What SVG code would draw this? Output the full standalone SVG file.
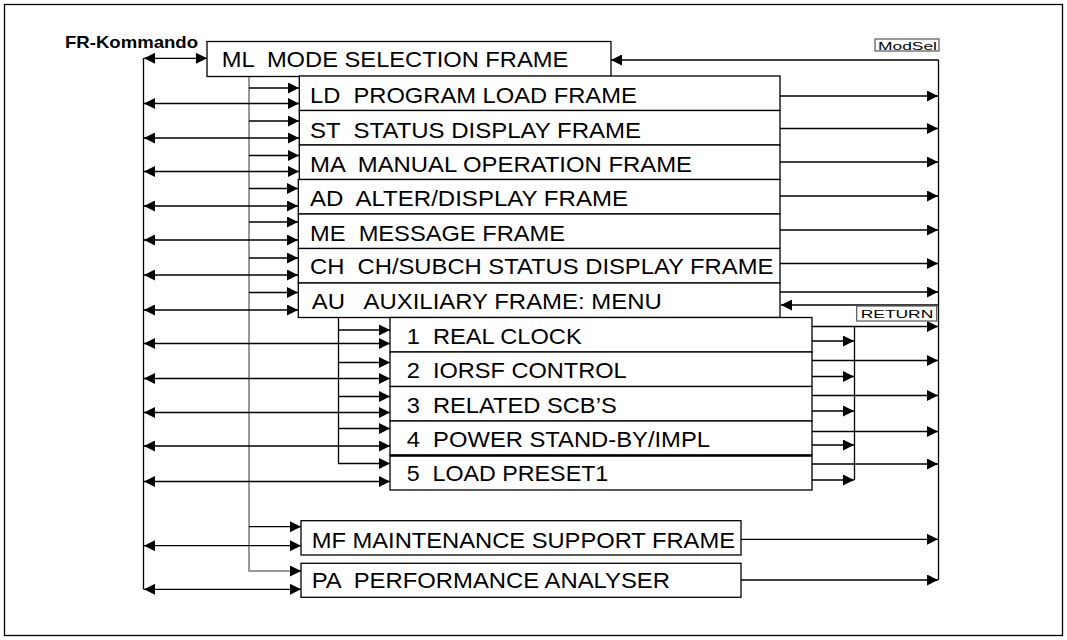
<svg xmlns="http://www.w3.org/2000/svg" width="1067" height="640" viewBox="0 0 1067 640">
<style>
.box{fill:#fff;stroke:#000;stroke-width:1.3}
.t{font-family:"Liberation Sans",Arial,sans-serif;font-size:22px;fill:#000;white-space:pre}
.lbl{fill:#fff;stroke:#555;stroke-width:1.2}
.lt{font-family:"Liberation Sans",Arial,sans-serif;font-size:11.5px;fill:#000}
.c{fill:none;stroke:#000;stroke-width:1.3}
.g{fill:none;stroke:#777;stroke-width:1.5}
.a{marker-end:url(#ah)}
.d{marker-start:url(#ah);marker-end:url(#ah)}
</style>
<defs>
<marker id="ah" viewBox="0 0 10 10" refX="10" refY="5" markerWidth="11" markerHeight="11" markerUnits="userSpaceOnUse" orient="auto-start-reverse"><path d="M0,0 L10,5 L0,10 z" fill="#000"/></marker>
</defs>
<rect x="4.5" y="4.5" width="1058" height="631" fill="#fff" stroke="#000" stroke-width="1.3"/>
<text x="65" y="47.7" font-family="Liberation Sans,Arial,sans-serif" font-weight="bold" font-size="16.5" textLength="133" lengthAdjust="spacingAndGlyphs">FR-Kommando</text>

<g id="connectors">
<path class="c" d="M143.5,58 V589.5"/>
<path class="c d" d="M144,58.3 H207"/>
<path class="g" d="M249,76 V571 H296"/>
<path class="c" d="M938.5,60 V580"/>
<path class="c a" d="M938.5,60 H611"/>
<!-- main rows: upper arrows -->
<path class="c a" d="M249,88 H299"/>
<path class="c a" d="M249,121 H299"/>
<path class="c a" d="M249,155.5 H299"/>
<path class="c a" d="M249,188.5 H298"/>
<path class="c a" d="M249,222 H298"/>
<path class="c a" d="M249,258 H298"/>
<path class="c a" d="M249,292.5 H298"/>
<!-- main rows: double arrows -->
<path class="c d" d="M144,103.5 H299"/>
<path class="c d" d="M144,138 H299"/>
<path class="c d" d="M144,171.5 H299"/>
<path class="c d" d="M144,206 H298"/>
<path class="c d" d="M144,240 H298"/>
<path class="c d" d="M144,275 H298"/>
<path class="c d" d="M144,310 H298"/>
<!-- main rows: right arrows -->
<path class="c a" d="M780,96 H938"/>
<path class="c a" d="M780,128.5 H938"/>
<path class="c a" d="M780,162 H938"/>
<path class="c a" d="M780,196 H938"/>
<path class="c a" d="M780,230 H938"/>
<path class="c a" d="M780,263.5 H938"/>
<path class="c a" d="M780,292 H938"/>
<path class="c a" d="M938.5,305 H781"/>
<!-- sub rows -->
<path class="c" d="M338.5,317.5 V463.5 H385"/>
<path class="c a" d="M338.5,330 H390"/>
<path class="c a" d="M338.5,362.5 H390"/>
<path class="c a" d="M338.5,396.5 H390"/>
<path class="c a" d="M338.5,428.5 H390"/>
<path class="c a" d="M380,463.5 H390"/>
<path class="c d" d="M144,343.5 H390"/>
<path class="c d" d="M144,378.5 H390"/>
<path class="c d" d="M144,412.5 H390"/>
<path class="c d" d="M144,446 H390"/>
<path class="c d" d="M144,481.5 H390"/>
<path class="c" d="M854.5,326.5 V480"/>
<path class="c a" d="M812,326.5 H938"/>
<path class="c a" d="M812,360.5 H938"/>
<path class="c a" d="M812,395.5 H938"/>
<path class="c a" d="M812,431.5 H938"/>
<path class="c a" d="M812,464 H938"/>
<path class="c a" d="M812,341 H854"/>
<path class="c a" d="M812,376.5 H854"/>
<path class="c a" d="M812,411 H854"/>
<path class="c a" d="M812,445 H854"/>
<path class="c a" d="M812,480 H854"/>
<!-- MF / PA -->
<path class="c a" d="M249,526.7 H301"/>
<path class="c a" d="M290,571 H301"/>
<path class="c d" d="M144,545.7 H301"/>
<path class="c d" d="M144,589.3 H301"/>
<path class="c a" d="M741,539.3 H938"/>
<path class="c a" d="M741,580 H938"/>
</g>

<g id="ML"><rect class="box" x="207" y="41.5" width="404" height="35"/><text class="t" x="221.7" y="67.3" textLength="346.6" lengthAdjust="spacingAndGlyphs">ML  MODE SELECTION FRAME</text></g>
<g id="ModSel"><rect class="lbl" x="875" y="39" width="64" height="12"/><text class="lt" x="878" y="49.5" textLength="59" lengthAdjust="spacingAndGlyphs">ModSel</text></g>
<g id="LD"><rect class="box" x="299.3" y="76" width="480.7" height="34.5"/><text class="t" x="310" y="102.7" textLength="326.7" lengthAdjust="spacingAndGlyphs">LD  PROGRAM LOAD FRAME</text></g>
<g id="ST"><rect class="box" x="299.3" y="110.5" width="480.7" height="34.5"/><text class="t" x="310" y="137.5" textLength="331" lengthAdjust="spacingAndGlyphs">ST  STATUS DISPLAY FRAME</text></g>
<g id="MA"><rect class="box" x="299.3" y="145" width="480.7" height="34.5"/><text class="t" x="310" y="172" textLength="382" lengthAdjust="spacingAndGlyphs">MA  MANUAL OPERATION FRAME</text></g>
<g id="AD"><rect class="box" x="298.3" y="179.5" width="481.7" height="34.5"/><text class="t" x="310" y="206.3" textLength="318" lengthAdjust="spacingAndGlyphs">AD  ALTER/DISPLAY FRAME</text></g>
<g id="ME"><rect class="box" x="298.3" y="214" width="481.7" height="34.5"/><text class="t" x="310" y="240.5" textLength="255" lengthAdjust="spacingAndGlyphs">ME  MESSAGE FRAME</text></g>
<g id="CH"><rect class="box" x="298.3" y="248.5" width="481.7" height="34.5"/><text class="t" x="310" y="274.3" textLength="463.3" lengthAdjust="spacingAndGlyphs">CH  CH/SUBCH STATUS DISPLAY FRAME</text></g>
<g id="AU"><rect class="box" x="298.3" y="283" width="481.7" height="34.5"/><text class="t" x="311.7" y="309" textLength="350" lengthAdjust="spacingAndGlyphs">AU   AUXILIARY FRAME: MENU</text></g>
<g id="RETURN"><rect class="lbl" x="856.7" y="306" width="80" height="15"/><text class="lt" x="860.7" y="317.5" font-size="12.5" textLength="72.6" lengthAdjust="spacingAndGlyphs">RETURN</text></g>
<g id="S1"><rect class="box" x="390" y="317.5" width="422" height="34.5"/><text class="t" x="406.7" y="344.3" textLength="175" lengthAdjust="spacingAndGlyphs">1  REAL CLOCK</text></g>
<g id="S2"><rect class="box" x="390" y="352" width="422" height="34.5"/><text class="t" x="406.7" y="378.3" textLength="220" lengthAdjust="spacingAndGlyphs">2  IORSF CONTROL</text></g>
<g id="S3"><rect class="box" x="390" y="386.5" width="422" height="34.5"/><text class="t" x="406.7" y="412.7" textLength="210" lengthAdjust="spacingAndGlyphs">3  RELATED SCB’S</text></g>
<g id="S4"><rect class="box" x="390" y="421" width="422" height="34.5"/><text class="t" x="406.7" y="447.3" textLength="303.3" lengthAdjust="spacingAndGlyphs">4  POWER STAND-BY/IMPL</text></g>
<g id="S5"><rect class="box" x="390" y="455.5" width="422" height="34.5"/><line x1="390" y1="455.5" x2="812" y2="455.5" stroke="#000" stroke-width="2.6"/><text class="t" x="406.7" y="481" textLength="201.6" lengthAdjust="spacingAndGlyphs">5  LOAD PRESET1</text></g>
<g id="MF"><rect class="box" x="301" y="520.7" width="440" height="34.3"/><text class="t" x="311.7" y="547.7" textLength="423.3" lengthAdjust="spacingAndGlyphs">MF MAINTENANCE SUPPORT FRAME</text></g>
<g id="PA"><rect class="box" x="301" y="563.3" width="440" height="34"/><text class="t" x="311.7" y="588.3" textLength="358.3" lengthAdjust="spacingAndGlyphs">PA  PERFORMANCE ANALYSER</text></g>
</svg>
